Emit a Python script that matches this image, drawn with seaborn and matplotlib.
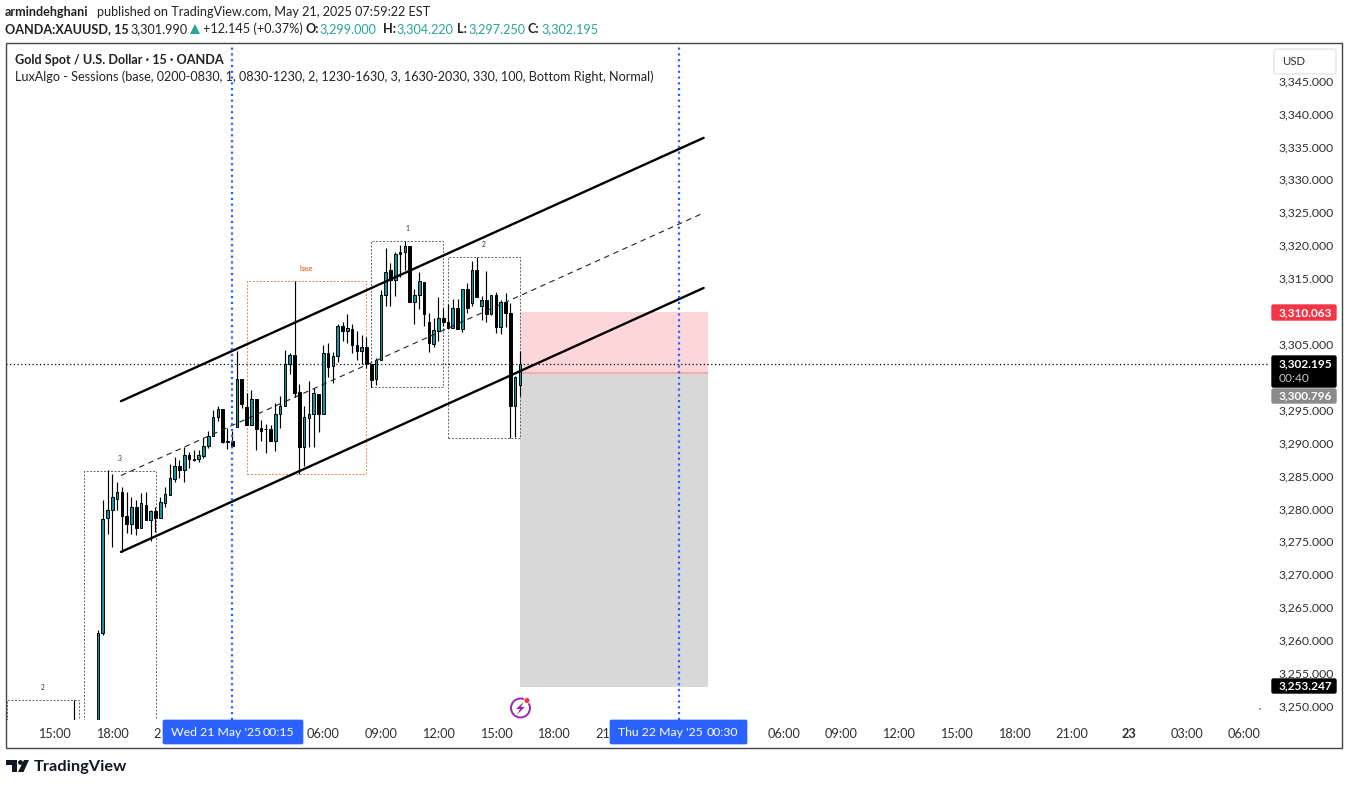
import numpy as np
import pandas as pd
import matplotlib
matplotlib.use("Agg")
import matplotlib.pyplot as plt
from matplotlib.patches import Rectangle, FancyBboxPatch, Circle, Polygon
import seaborn as sns

bars = [-8, -3, -2] + list(range(-1, 86))
opens = [3247.0, 3240.0, 3261.1,
         3278.5, 3279.7, 3281.5, 3282.5, 3278.9, 3277.7, 3280.2, 3277.1, 3280.6, 3278.2, 3279.6,
         3278.6, 3280.9, 3282.0, 3284.5, 3286.4, 3285.9, 3288.2, 3287.5, 3287.5, 3288.0,
         3289.5, 3291.0, 3293.9, 3295.1, 3290.2, 3290.3, 3292.4, 3299.6, 3295.4, 3292.7,
         3296.6, 3292.3, 3292.1, 3292.1, 3290.3, 3294.3, 3295.5, 3301.9, 3303.3, 3297.7,
         3289.3, 3293.8, 3294.4, 3297.4, 3294.4, 3303.6, 3301.6, 3303.1, 3307.7, 3307.0,
         3307.2, 3304.8, 3304.0, 3304.6, 3301.9, 3299.6, 3302.5, 3312.4, 3316.2, 3314.7,
         3318.9, 3318.9, 3319.8, 3311.3, 3312.4, 3314.4, 3308.3, 3305.0, 3306.9, 3308.9,
         3308.3, 3307.4, 3310.5, 3307.2, 3313.3, 3311.2, 3316.2, 3310.8, 3311.6, 3309.6,
         3312.4, 3307.6, 3311.3, 3309.7, 3295.6, 3298.7]
closes = [3244.0, 3261.1, 3278.4,
          3279.7, 3281.7, 3282.5, 3278.8, 3277.7, 3280.3, 3277.1, 3280.8, 3278.2, 3279.6, 3278.6,
          3281.0, 3282.2, 3284.6, 3286.4, 3285.9, 3288.2, 3287.5, 3287.3, 3288.1, 3289.5,
          3291.0, 3293.9, 3295.1, 3290.1, 3290.1, 3289.5, 3299.6, 3295.8, 3292.7, 3296.6,
          3292.1, 3291.8, 3292.0, 3290.3, 3294.3, 3295.5, 3301.9, 3303.3, 3297.6, 3289.3,
          3293.9, 3294.4, 3297.5, 3294.4, 3303.6, 3301.5, 3303.1, 3307.7, 3307.0, 3307.4,
          3304.8, 3304.0, 3304.5, 3301.9, 3299.5, 3302.5, 3312.4, 3316.0, 3314.7, 3318.6,
          3318.7, 3319.8, 3311.3, 3312.4, 3314.5, 3309.6, 3305.1, 3307.1, 3308.9, 3308.3,
          3307.4, 3310.5, 3307.3, 3313.3, 3310.4, 3316.2, 3312.2, 3311.6, 3309.6, 3312.4,
          3307.6, 3311.3, 3309.7, 3295.6, 3300.0, 3301.9]
highs = [3250.9, 3261.5, 3281.3,
         3285.8, 3285.2, 3284.0, 3283.3, 3282.5, 3281.8, 3281.3, 3282.3, 3282.5, 3279.7, 3280.2,
         3281.7, 3283.3, 3286.7, 3287.8, 3287.4, 3289.4, 3288.6, 3288.9, 3288.9, 3290.7,
         3291.8, 3295.0, 3295.6, 3295.1, 3292.3, 3291.8, 3303.9, 3299.6, 3297.5, 3298.0,
         3296.7, 3293.5, 3292.8, 3292.7, 3296.1, 3297.1, 3304.1, 3303.6, 3314.6, 3298.9,
         3295.6, 3299.3, 3298.3, 3297.4, 3304.8, 3305.1, 3303.7, 3308.0, 3308.3, 3309.5,
         3308.0, 3307.0, 3306.4, 3306.0, 3301.9, 3302.8, 3313.2, 3319.5, 3317.3, 3318.9,
         3320.1, 3320.6, 3319.9, 3313.3, 3316.0, 3314.4, 3309.7, 3308.9, 3312.1, 3310.4,
         3311.1, 3311.8, 3311.8, 3313.3, 3314.2, 3317.6, 3318.2, 3312.3, 3316.1, 3312.4,
         3312.9, 3311.7, 3312.7, 3311.2, 3300.1, 3304.0]
lows = [3243.0, 3239.0, 3260.8,
        3276.1, 3274.2, 3279.7, 3273.4, 3276.3, 3276.2, 3276.0, 3277.1, 3278.2, 3275.1, 3276.5,
        3278.6, 3280.3, 3282.0, 3284.1, 3284.6, 3284.1, 3286.1, 3287.2, 3287.1, 3287.7,
        3289.2, 3291.0, 3293.3, 3289.9, 3289.1, 3289.5, 3292.4, 3295.3, 3292.7, 3292.7,
        3288.9, 3290.3, 3288.5, 3290.3, 3288.8, 3292.3, 3295.5, 3300.4, 3297.0, 3285.2,
        3286.5, 3289.3, 3289.3, 3291.6, 3294.4, 3300.0, 3299.1, 3302.2, 3305.5, 3305.1,
        3303.6, 3302.5, 3301.9, 3301.3, 3298.4, 3298.7, 3302.5, 3310.8, 3310.7, 3312.3,
        3315.1, 3316.2, 3311.3, 3308.0, 3310.3, 3307.7, 3303.8, 3304.5, 3305.5, 3307.7,
        3307.4, 3307.4, 3307.3, 3306.8, 3309.7, 3310.8, 3312.2, 3308.6, 3308.4, 3309.4,
        3306.6, 3306.5, 3307.6, 3290.7, 3290.8, 3297.1]

price_ticks = [3250, 3255, 3260, 3265, 3270, 3275, 3280, 3285, 3290, 3295,
               3305, 3315, 3320, 3325, 3330, 3335, 3340, 3345]
# the 21:00 labels are cut off by the blue date boxes in the original
time_ticks = [-12, 0, 9.3, 44, 56, 68, 80, 92, 102.3, 140, 152, 164, 176, 188, 200, 212, 224, 236]
time_labels = ["15:00", "18:00", "2", "06:00", "09:00", "12:00", "15:00", "18:00", "21",
               "06:00", "09:00", "12:00", "15:00", "18:00", "21:00", "23", "03:00", "06:00"]

# channel end points, bar index / price
channel_x = [1.8, 123.3]
channel_top = [3296.3, 3336.3]
channel_bot = [3273.4, 3313.5]
channel_mid_x = [1.8, 122.7]
channel_mid = [3285.0, 3324.7]

# sessions: label, first bar, last bar, top, bottom
session_names = ["2", "3", "base", "1", "2"]
session_start = [-21.9, -5.9, 28, 54, 70]
session_end = [-7, 9.1, 53, 69, 85]
session_top = [3250.9, 3285.7, 3314.5, 3320.6, 3318.2]
session_bottom = [3240, 3240, 3285.2, 3298.4, 3290.7]

# levels as they sit on the picture
entry_level = 3300.6
stop_level = 3309.85
target_level = 3252.9
last_level = 3301.95
position_x = [85, 124.2]
cursor_bars = [25, 118.1]

TEAL = "#0a97a8"
RED = "#f23645"
BLUE = "#2962ff"
TXT = "#2f2f2f"
FONT = "Lato"

sns.set_theme(style="white")
plt.rcParams["font.family"] = [FONT, "DejaVu Sans"]

W, H = 1349, 785
fig = plt.figure(figsize=(W / 100, H / 100), dpi=100, facecolor="white")
ax = fig.add_axes([7 / W, 1 - 720 / H, 1263 / W, 676 / H])

df = pd.DataFrame({"bar": bars, "open": opens, "close": closes, "high": highs, "low": lows})
df["body"] = (df["close"] - df["open"]).abs()
df["base"] = df[["open", "close"]].min(axis=1)
up = df[df["close"] >= df["open"]]
down = df[df["close"] < df["open"]]

# position tool sits under the candles
ax.add_patch(Rectangle((position_x[0], entry_level), position_x[1] - position_x[0], stop_level - entry_level,
                       facecolor=RED, alpha=0.2, edgecolor="none", zorder=1))
ax.add_patch(Rectangle((position_x[0], target_level), position_x[1] - position_x[0], entry_level - target_level,
                       facecolor="#d8d8d8", edgecolor="none", zorder=1))
ax.hlines(entry_level, position_x[0], position_x[1], color="#f7a3aa", lw=1.2, zorder=1.5)

for name, x0, x1, top, bot in zip(session_names, session_start, session_end, session_top, session_bottom):
    col = "#f0874f" if name == "base" else "#666666"
    ax.add_patch(Rectangle((x0, bot), x1 - x0, top - bot, fill=False, edgecolor=col, lw=0.7,
                           linestyle=(0, (2, 1.6)), zorder=2))
    ax.text((x0 + x1) / 2, top + 1.9, name, ha="center", va="center", fontsize=4.8,
            color="#e65100" if name == "base" else "#333333", zorder=2)

ax.hlines(last_level, -23, 242, color="black", lw=0.9, linestyle=(0, (1, 2)), zorder=2)

ax.vlines(df["bar"], df["low"], df["high"], color="black", lw=0.85, zorder=3)
sns.barplot(data=up, x="bar", y="body", bottom=up["base"].values, native_scale=True, width=0.55,
            color=TEAL, saturation=1, edgecolor="black", linewidth=0.7, errorbar=None, zorder=4, ax=ax)
sns.barplot(data=down, x="bar", y="body", bottom=down["base"].values, native_scale=True, width=0.55,
            color="black", saturation=1, edgecolor="black", linewidth=0.7, errorbar=None, zorder=4, ax=ax)

sns.lineplot(x=channel_x, y=channel_top, color="black", lw=1.7, ax=ax, zorder=5, estimator=None)
sns.lineplot(x=channel_x, y=channel_bot, color="black", lw=1.7, ax=ax, zorder=5, estimator=None)
ax.plot(channel_mid_x, channel_mid, color="#222222", lw=0.8, linestyle=(0, (5, 4)), zorder=5)
ax.vlines(cursor_bars, 3247.87, 3350.56, color=BLUE, lw=1.6, linestyle=(0, (1, 1.6)), zorder=6)

ax.set_xlim(-21.96, 241.4)
ax.set_ylim(3247.87, 3350.56)
ax.set_xlabel("")
ax.set_ylabel("")
ax.set_xticks(time_ticks, time_labels)
ax.yaxis.tick_right()
ax.set_yticks(price_ticks, [f"{p:,.3f}" for p in price_ticks])
ax.tick_params(axis="x", length=0, pad=6, labelsize=9.2, labelcolor=TXT)
ax.tick_params(axis="y", length=0, pad=6, labelsize=8.8, labelcolor=TXT)
ax.get_xticklabels()[15].set_fontweight("bold")
sns.despine(ax=ax, left=True, right=True, top=True, bottom=True)

# overlay in pixel coordinates for the TradingView chrome
ov = fig.add_axes([0, 0, 1, 1], zorder=10, facecolor="none")
ov.set_xlim(0, W)
ov.set_ylim(H, 0)
ov.axis("off")

ov.add_patch(Rectangle((6, 43), 1336, 705, fill=False, edgecolor="#444444", lw=1.0))


def tag(y0, y1, col):
    ov.add_patch(FancyBboxPatch((1272, y0 + 1), 64, y1 - y0 - 2, boxstyle="round,pad=0,rounding_size=1.5",
                                facecolor=col, edgecolor=col, lw=1))


def tag_text(y, s, col="white", weight="bold"):
    ov.text(1279, y, s, ha="left", va="center", fontsize=8.6, color=col, fontweight=weight)


tag(304, 321, RED)
tag_text(312.5, "3,310.063")
tag(355, 388, "black")
tag_text(364, "3,302.195")
tag_text(378, "00:40", col="#c8c8c8", weight="normal")
tag(388, 404, "#8a8a8a")
tag_text(396, "3,300.796")
tag(678, 694, "black")
tag_text(686, "3,253.247")

ov.add_patch(FancyBboxPatch((1274, 49), 62, 25, boxstyle="round,pad=0,rounding_size=2",
                            facecolor="white", edgecolor="#e0e0e0", lw=0.8))
ov.text(1294, 61.5, "USD", ha="center", va="center", fontsize=8.2, color=TXT)

for x0, x1, t0, t1, day, clock in [(163, 303, 171, 294, "Wed 21 May '25", "00:15"),
                                   (610, 747, 618, 738, "Thu 22 May '25", "00:30")]:
    ov.add_patch(FancyBboxPatch((x0, 720), x1 - x0, 24, boxstyle="round,pad=0,rounding_size=1.5",
                                facecolor=BLUE, edgecolor=BLUE, lw=0.5))
    ov.text(t0, 733, day, ha="left", va="center", fontsize=8.8, color="white")
    ov.text(t1, 733, clock, ha="right", va="center", fontsize=8.8, color="white")

# header lines
HEAD = 9.05
ov.text(5, 12, "armindehghani", fontsize=HEAD, fontweight="bold", color="#222222", va="center")
ov.text(97, 12, "published on TradingView.com, May 21, 2025 07:59:22 EST", fontsize=HEAD, color="#222222", va="center")
ov.text(5, 29, "OANDA:XAUUSD, 15", fontsize=HEAD, fontweight="bold", color="#222222", va="center")
ov.text(130, 29, "3,301.990", fontsize=HEAD, color="#222222", va="center")
ov.add_patch(Polygon([[190, 34], [200, 34], [195, 24]], facecolor="#26a69a", edgecolor="none"))
ov.text(203, 29, "+12.145 (+0.37%)", fontsize=HEAD, color="#222222", va="center")
for x0, x1, lab, val in [(306, 319, "O:", "3,299.000"), (383, 396, "H:", "3,304.220"),
                         (457, 468, "L:", "3,297.250"), (528, 541, "C:", "3,302.195")]:
    ov.text(x0, 29, lab, fontsize=HEAD, fontweight="bold", color="#222222", va="center")
    ov.text(x1, 29, val, fontsize=HEAD, color="#26a69a", va="center")
ov.text(15, 60, "Gold Spot / U.S. Dollar · 15 · OANDA", fontsize=HEAD, fontweight="bold", color="#222222", va="center")
ov.text(15, 77, "LuxAlgo - Sessions (base, 0200-0830, 1, 0830-1230, 2, 1230-1630, 3, 1630-2030, 330, 100, Bottom Right, Normal)",
        fontsize=HEAD, color="#222222", va="center")

# lightning badge
ov.add_patch(Circle((520.5, 708), 9.5, fill=False, edgecolor="#9c27b0", lw=1.4))
ov.add_patch(Polygon([[523.5, 702], [516, 709], [520, 709], [517, 714.5], [525, 707], [521, 707]],
                     facecolor="#9c27b0", edgecolor="none"))
ov.add_patch(Circle((527, 700.5), 3, facecolor=RED, edgecolor="white", lw=0.6))
ov.add_patch(Circle((1260, 709), 0.8, facecolor="#444444", edgecolor="none"))

# TradingView logo
ov.add_patch(Polygon([[6, 760], [17, 760], [17, 772], [12, 772], [12, 765], [6, 765]], facecolor="#131722", edgecolor="none"))
ov.add_patch(Circle((20.5, 762.5), 2.4, facecolor="#131722", edgecolor="none"))
ov.add_patch(Polygon([[24, 760], [29, 760], [23.5, 772], [18, 772]], facecolor="#131722", edgecolor="none"))
ov.text(33.5, 766.5, "TradingView", fontsize=11.8, fontweight="bold", color="#131722", va="center")

fig.savefig("out.png", dpi=100, facecolor="white")
